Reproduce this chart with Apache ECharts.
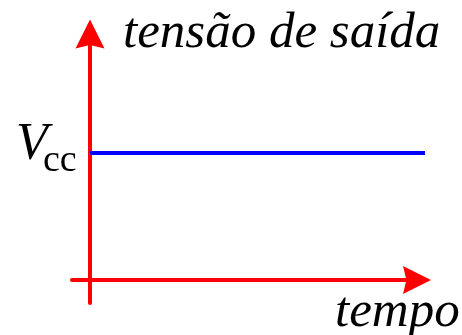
<!DOCTYPE html>
<html>
<head>
<meta charset="utf-8">
<script src="https://cdn.jsdelivr.net/npm/echarts@6/dist/echarts.min.js"></script>
<style>html,body{margin:0;padding:0;background:#fff;}#c{width:462px;height:335px;}</style>
</head>
<body>
<div id="c"></div>
<script>
// Data
var timeValues = [0, 10];
var outputValues = [1, 1];   // Vcc (normalised)
var xRange = [-0.537, 10];
var yRange = [-0.181, 2];
var yLabel = 'tensão de saída';
var xLabel = 'tempo';
var levelLabelMain = 'V';
var levelLabelSub = 'cc';

var chart = echarts.init(document.getElementById('c'), null, {renderer: 'canvas'});
var arrow = 'path://M50,0 L100,100 L50,88 L0,100 Z';
var axisCommon = {
  type: 'value',
  axisTick: {show: false},
  axisLabel: {show: false},
  splitLine: {show: false}
};
function ttl(x, y, s, size, italic) {
  return {text: s, left: x, top: y, padding: 0, itemGap: 0,
    textStyle: {fontFamily: 'Liberation Serif', fontSize: size, fontStyle: italic ? 'italic' : 'normal',
      fontWeight: 'normal', color: '#000'}};
}
chart.setOption({
  animation: false,
  title: [
    ttl(123, 8, yLabel, 51, true),
    ttl(335, 287, xLabel, 51, true),
    ttl(16, 119, levelLabelMain, 52, true),
    ttl(43, 142, levelLabelSub, 38, false)
  ],
  grid: {left: 72, right: 37, top: 26, bottom: 32},
  xAxis: Object.assign({}, axisCommon, {
    min: xRange[0], max: xRange[1],
    axisLine: {onZero: true, symbol: ['none', arrow], symbolSize: [28, 34], symbolOffset: [0, -8],
      lineStyle: {color: '#ff0000', width: 4}}
  }),
  yAxis: Object.assign({}, axisCommon, {
    min: yRange[0], max: yRange[1],
    axisLine: {onZero: true, symbol: ['none', arrow], symbolSize: [29, 32], symbolOffset: [0, -8],
      lineStyle: {color: '#ff0000', width: 4}}
  }),
  series: [{
    type: 'line',
    data: timeValues.map(function (t, i) { return [t, outputValues[i]]; }),
    showSymbol: false,
    lineStyle: {color: '#0000ff', width: 4},
    z: 1
  }]
});
</script>
</body>
</html>
